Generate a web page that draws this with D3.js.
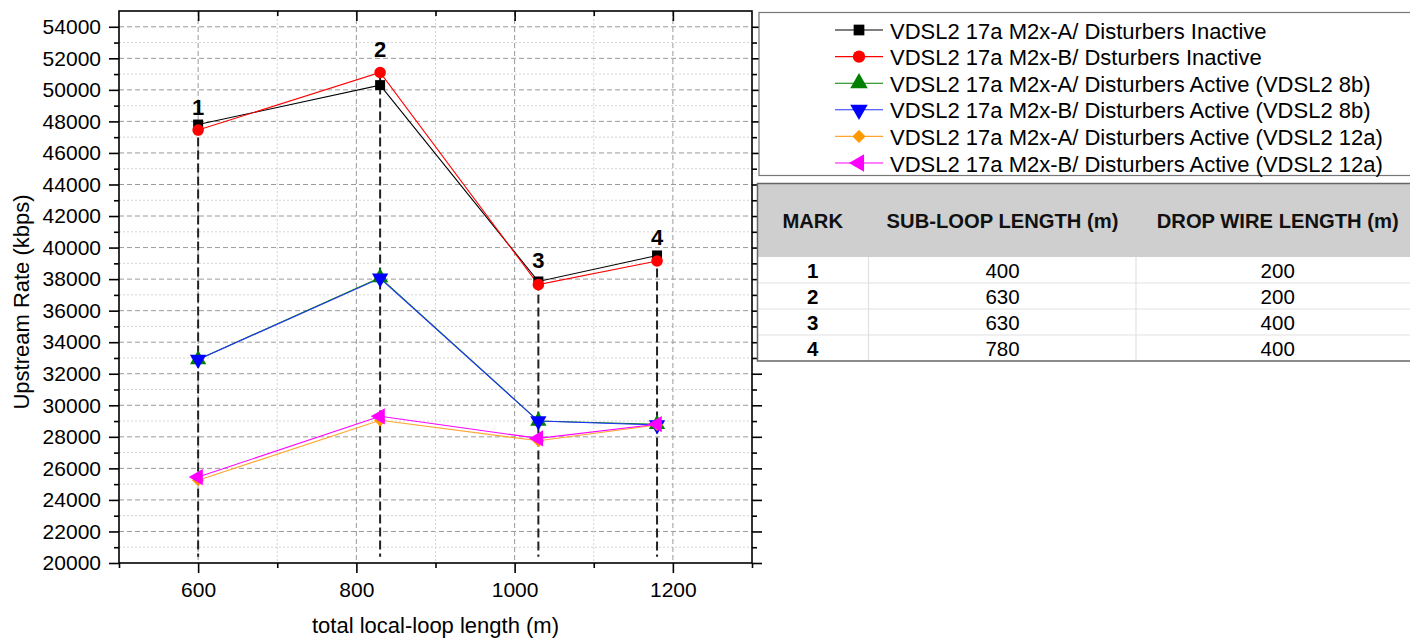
<!DOCTYPE html>
<html>
<head>
<meta charset="utf-8">
<script src="https://cdn.jsdelivr.net/npm/d3@7"></script>
<style>
html,body{margin:0;padding:0;background:#fff;}
svg{display:block;font-family:"Liberation Sans",Arial,sans-serif;}
</style>
</head>
<body>
<svg id="chart" width="1410" height="640"></svg>
<script>
// ---------------- data ----------------
const xLengths = [600, 830, 1030, 1180];
const markLabels = ["1", "2", "3", "4"];
const seriesNames = [
  "VDSL2 17a M2x-A/ Disturbers Inactive",
  "VDSL2 17a M2x-B/ Dsturbers Inactive",
  "VDSL2 17a M2x-A/ Disturbers Active (VDSL2 8b)",
  "VDSL2 17a M2x-B/ Disturbers Active (VDSL2 8b)",
  "VDSL2 17a M2x-A/ Disturbers Active (VDSL2 12a)",
  "VDSL2 17a M2x-B/ Disturbers Active (VDSL2 12a)"
];
const aInactive = [47800, 50300, 37850, 39500];
const bInactive = [47450, 51100, 37650, 39150];
const aActive8b = [32900, 38100, 29000, 28800];
const bActive8b = [32900, 38050, 29000, 28750];
const aActive12a = [25250, 29050, 27750, 28750];
const bActive12a = [25450, 29300, 27900, 28800];
const yTickValues = d3.range(20000, 54001, 2000);
const xTickValues = [600, 800, 1000, 1200];
const tableHeaders = ["MARK", "SUB-LOOP LENGTH (m)", "DROP WIRE LENGTH (m)"];
const subLoopLengths = [400, 630, 630, 780];
const dropWireLengths = [200, 200, 400, 400];

// ---------------- styles ----------------
const seriesValues = [aInactive, bInactive, aActive8b, bActive8b, aActive12a, bActive12a];
const lineColors = ["#000000", "#ff0000", "#008000", "#2233ff", "#ffa530", "#ff00ff"];
const markColors = ["#000000", "#ff0000", "#008000", "#0000ff", "#ff9900", "#ff00ff"];
const markerDefs = [
  {type: d3.symbolSquare, size: 100, rot: 0},
  {type: d3.symbolCircle, size: 105, rot: 0},
  {type: d3.symbolTriangle, size: 115, rot: 0},
  {type: d3.symbolTriangle, size: 115, rot: 180},
  {type: d3.symbolSquare, size: 75, rot: 45},
  {type: d3.symbolTriangle, size: 115, rot: -90}
];
const labelOffsets = [10, 15.5, 13, 10];

const svg = d3.select("#chart");
const L = 119, R = 752, T = 11, B = 563;
const x = d3.scaleLinear().domain([500, 1300]).range([L, R]);
const y = d3.scaleLinear().domain([20000, 55000]).range([B, T]);
const FS = 21;
const TFS = 22;

// grid
const g = svg.append("g");
const yMinor = d3.range(21000, 55000, 2000);
g.selectAll(".ymin").data(yMinor).enter().append("line")
  .attr("x1", L).attr("x2", R).attr("y1", d => y(d)).attr("y2", d => y(d))
  .attr("stroke", "#d4d4d4").attr("stroke-width", 1).attr("stroke-dasharray", "2,2");
g.selectAll(".ymaj").data(yTickValues.filter(d => d > 20000)).enter().append("line")
  .attr("x1", L).attr("x2", R).attr("y1", d => y(d)).attr("y2", d => y(d))
  .attr("stroke", "#9a9a9a").attr("stroke-width", 1).attr("stroke-dasharray", "5,3");
g.selectAll(".xmin").data([700, 900, 1100]).enter().append("line")
  .attr("x1", d => x(d)).attr("x2", d => x(d)).attr("y1", T).attr("y2", B)
  .attr("stroke", "#d4d4d4").attr("stroke-width", 1).attr("stroke-dasharray", "2,2");
g.selectAll(".xmaj").data(xTickValues).enter().append("line")
  .attr("x1", d => x(d)).attr("x2", d => x(d)).attr("y1", T).attr("y2", B)
  .attr("stroke", "#9a9a9a").attr("stroke-width", 1).attr("stroke-dasharray", "5,3");

// vertical dashed mark lines
svg.selectAll(".mark").data(xLengths).enter().append("line")
  .attr("x1", d => x(d)).attr("x2", d => x(d))
  .attr("y1", (d, i) => y(d3.max(seriesValues, s => s[i])))
  .attr("y2", y(20400))
  .attr("stroke", "#222").attr("stroke-width", 2).attr("stroke-dasharray", "9,4");

// axes
const axisW = 1.6;
const yAxisL = d3.axisLeft(y).tickValues(yTickValues).tickSize(10).tickPadding(8).tickFormat(d3.format("d"));
const yAxisLm = d3.axisLeft(y).tickValues(yMinor).tickSize(5).tickFormat("");
const yAxisR = d3.axisLeft(y).tickValues(yTickValues).tickSize(-10).tickFormat("");
const yAxisRm = d3.axisLeft(y).tickValues(yMinor).tickSize(-5).tickFormat("");
const xAxisB = d3.axisBottom(x).tickValues(xTickValues).tickSize(10).tickPadding(9).tickFormat(d3.format("d"));
const xAxisBm = d3.axisBottom(x).tickValues([500, 700, 900, 1100, 1300]).tickSize(5).tickFormat("");
const xAxisT = d3.axisBottom(x).tickValues(xTickValues).tickSize(10).tickFormat("");
const xAxisTm = d3.axisBottom(x).tickValues([700, 900, 1100]).tickSize(5).tickFormat("");

function styleAxis(sel) {
  sel.select(".domain").remove();
  sel.selectAll(".tick line").attr("stroke", "#000").attr("stroke-width", axisW);
  sel.selectAll(".tick text").attr("fill", "#000").style("font-size", FS + "px")
    .style("font-family", '"Liberation Sans",Arial,sans-serif');
}
svg.append("g").attr("transform", `translate(${L},0)`).call(yAxisL).call(styleAxis);
svg.append("g").attr("transform", `translate(${L},0)`).call(yAxisLm).call(styleAxis);
svg.append("g").attr("transform", `translate(${R},0)`).call(yAxisR).call(styleAxis);
svg.append("g").attr("transform", `translate(${R},0)`).call(yAxisRm).call(styleAxis);
svg.append("g").attr("transform", `translate(0,${B})`).call(xAxisB).call(styleAxis);
svg.append("g").attr("transform", `translate(0,${B})`).call(xAxisBm).call(styleAxis);
svg.append("g").attr("transform", `translate(0,${T})`).call(xAxisT).call(styleAxis);
svg.append("g").attr("transform", `translate(0,${T})`).call(xAxisTm).call(styleAxis);
svg.append("rect").attr("x", L).attr("y", T).attr("width", R - L).attr("height", B - T)
  .attr("fill", "none").attr("stroke", "#000").attr("stroke-width", axisW);

// axis titles
svg.append("text").attr("x", (L + R) / 2).attr("y", 633).attr("text-anchor", "middle")
  .style("font-size", TFS + "px").text("total local-loop length (m)");
svg.append("text").attr("transform", "translate(21,302) rotate(-90)").attr("text-anchor", "middle")
  .attr("dominant-baseline", "central").style("font-size", TFS + "px").text("Upstream Rate (kbps)");

// series
const line = d3.line().x((d, i) => x(xLengths[i])).y(d => y(d));
seriesValues.forEach((vals, si) => {
  svg.append("path").datum(vals).attr("d", line).attr("fill", "none")
    .attr("stroke", lineColors[si]).attr("stroke-width", 1.1);
});
seriesValues.forEach((vals, si) => {
  const m = markerDefs[si];
  svg.selectAll(".m" + si).data(vals).enter().append("path")
    .attr("d", d3.symbol().type(m.type).size(m.size))
    .attr("transform", (d, i) => `translate(${x(xLengths[i])},${y(d)}) rotate(${m.rot})`)
    .attr("fill", markColors[si]);
});

// mark labels
const labelVals = xLengths.map((d, i) => d3.max(seriesValues, s => s[i]));
svg.selectAll(".ml").data(markLabels).enter().append("text")
  .attr("x", (d, i) => x(xLengths[i]))
  .attr("y", (d, i) => y(labelVals[i]) - labelOffsets[i])
  .attr("text-anchor", "middle").style("font-size", "22px").style("font-weight", "bold").text(d => d);

// legend
const lg = svg.append("g");
lg.append("rect").attr("x", 759).attr("y", 12.5).attr("width", 700).attr("height", 163)
  .attr("fill", "#fff").attr("stroke", "#777").attr("stroke-width", 1.2);
seriesNames.forEach((name, i) => {
  const cy = 30 + i * 26.6;
  lg.append("line").attr("x1", 835).attr("x2", 883).attr("y1", cy).attr("y2", cy)
    .attr("stroke", lineColors[i]).attr("stroke-width", 1.1);
  const m = markerDefs[i];
  lg.append("path").attr("d", d3.symbol().type(m.type).size(m.size * 1.15))
    .attr("transform", `translate(859,${cy}) rotate(${m.rot})`).attr("fill", markColors[i]);
  lg.append("text").attr("x", 890).attr("y", cy + 1).attr("dominant-baseline", "central")
    .style("font-size", TFS + "px").text(name);
});

// table
const tb = svg.append("g");
const tL = 757.5, tR = 1420, tT = 183.5, hB = 257, rowH = 26;
const colEdges = [tL, 868.5, 1136, tR];
tb.append("rect").attr("x", tL).attr("y", tT).attr("width", tR - tL).attr("height", hB - tT).attr("fill", "#cfcfcf");
tb.append("rect").attr("x", tL).attr("y", hB).attr("width", tR - tL).attr("height", rowH * 4).attr("fill", "#fff");
subLoopLengths.forEach((d, i) => {
  if (i > 0) tb.append("line").attr("x1", tL).attr("x2", tR).attr("y1", hB + i * rowH).attr("y2", hB + i * rowH)
    .attr("stroke", "#e2e2e2").attr("stroke-width", 1.2);
});
[1, 2].forEach(c => tb.append("line").attr("x1", colEdges[c]).attr("x2", colEdges[c])
  .attr("y1", hB).attr("y2", hB + rowH * 4).attr("stroke", "#e2e2e2").attr("stroke-width", 1.2));
tb.append("rect").attr("x", tL).attr("y", tT).attr("width", tR - tL).attr("height", hB + rowH * 4 - tT)
  .attr("fill", "none").attr("stroke", "#666").attr("stroke-width", 1.5);
const colCenters = [812.7, 1002.5, 1277.7];
tableHeaders.forEach((h, c) => {
  tb.append("text").attr("x", colCenters[c]).attr("y", 221).attr("text-anchor", "middle")
    .attr("dominant-baseline", "central").style("font-size", "20.2px").style("font-weight", "bold")
    .attr("fill", "#111").text(h);
});
markLabels.forEach((mk, i) => {
  const cy = hB + i * rowH + rowH / 2 + 0.5;
  tb.append("text").attr("x", colCenters[0]).attr("y", cy).attr("text-anchor", "middle")
    .attr("dominant-baseline", "central").style("font-size", "20.5px").style("font-weight", "bold").text(mk);
  tb.append("text").attr("x", colCenters[1]).attr("y", cy).attr("text-anchor", "middle")
    .attr("dominant-baseline", "central").style("font-size", "20.5px").text(subLoopLengths[i]);
  tb.append("text").attr("x", colCenters[2]).attr("y", cy).attr("text-anchor", "middle")
    .attr("dominant-baseline", "central").style("font-size", "20.5px").text(dropWireLengths[i]);
});
</script>
</body>
</html>
